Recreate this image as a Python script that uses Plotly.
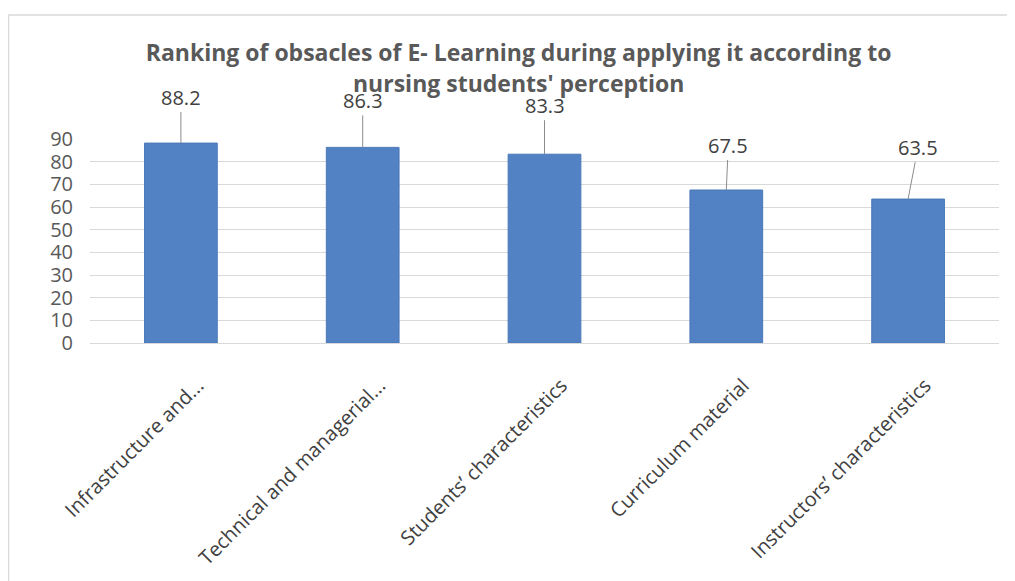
import plotly.graph_objects as go

categories = [
    "Infrastructure and...",
    "Technical and managerial...",
    "Students’ characteristics",
    "Curriculum material",
    "Instructors’ characteristics",
]
values = [88.2, 86.3, 83.3, 67.5, 63.5]
value_labels = ["88.2", "86.3", "83.3", "67.5", "63.5"]
# label offsets (pixels) for the leader-line callouts
label_dx = [0, 0, 0, 2, 10]
label_dy = [-46, -47, -49, -45, -52]
y_ticks = [0, 10, 20, 30, 40, 50, 60, 70, 80, 90]

TEXT = "#595959"
DARK = "#404040"
GRID = "#d9d9d9"
BAR = "#5282c4"
FONT = "Open Sans"

fig = go.Figure(go.Bar(
    x=categories,
    y=values,
    marker=dict(color=BAR, line=dict(color="#4a78b8", width=1)),
    showlegend=False,
    hoverinfo="x+y",
))

# data labels with leader lines
for cat, v, txt, dx, dy in zip(categories, values, value_labels, label_dx, label_dy):
    fig.add_annotation(
        x=cat, y=v, xref="x", yref="y",
        text=txt, showarrow=True, arrowhead=0, arrowwidth=1,
        arrowcolor="#8c8c8c", ax=dx, ay=dy, standoff=0,
        font=dict(family=FONT, size=20, color=DARK),
    )

# second title line (Excel-style wide line spacing)
fig.add_annotation(
    text="<b>nursing students' perception</b>",
    xref="paper", yref="paper", x=0.471, y=1.2745,
    xanchor="center", yanchor="middle", showarrow=False,
    font=dict(family=FONT, size=23, color=TEXT),
)

# chart frame
fig.add_shape(
    type="rect", xref="paper", yref="paper",
    x0=-0.0897, x1=1.3, y0=-1.6, y1=1.608,
    line=dict(color=GRID, width=1.5), layer="below",
)

fig.update_layout(
    width=1007, height=573,
    paper_bgcolor="white", plot_bgcolor="white",
    margin=dict(l=82, r=16, t=131, b=238, autoexpand=False),
    title=dict(
        text="<b>Ranking of obsacles of E- Learning during applying it according to</b>",
        x=0.507, xanchor="center", y=0.9215, yanchor="middle",
        font=dict(family=FONT, size=23, color=TEXT),
    ),
    bargap=0.6,
    font=dict(family=FONT, color=TEXT),
    xaxis=dict(
        tickangle=-45,
        tickfont=dict(family=FONT, size=20, color=DARK),
        showgrid=False, showline=True, linecolor=GRID, linewidth=1,
        ticks="", ticklabelstandoff=22, ticklabelshift=17,
        automargin=False,
    ),
    yaxis=dict(
        range=[0, 90], tickvals=y_ticks,
        tickfont=dict(family=FONT, size=20, color=TEXT),
        showgrid=True, gridcolor=GRID, gridwidth=1,
        zeroline=False, showline=False, ticks="",
        ticklabelstandoff=16, automargin=False,
    ),
)

fig.write_html("out.html")
